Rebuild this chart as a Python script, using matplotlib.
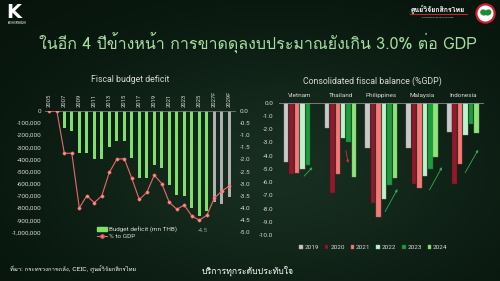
import numpy as np
import matplotlib
matplotlib.use("Agg")
import matplotlib.pyplot as plt
from matplotlib import font_manager, ft2font
from matplotlib.patches import Circle, Patch, Ellipse
from matplotlib.lines import Line2D

# ---------------- data ----------------
years = list(range(2005, 2030))
year_ticks = list(range(2005, 2030, 2))
year_tick_labels = ["2005", "2007", "2009", "2011", "2013", "2015", "2017",
                    "2019", "2021", "2023", "2025", "2027F", "2029F"]
deficit_mn_thb = [0, 0, -145000, -165000, -345000, -350000, -400000, -395000,
                  -300000, -250000, -250000, -390000, -552000, -550000,
                  -450000, -469000, -611000, -697000, -700000, -803000,
                  -867000, -823000, -749000, -770000, -710000]
pct_to_gdp = [0.0, 0.0, -1.75, -1.75, -4.0, -3.5, -3.78, -3.5, -2.54, -2.0,
              -1.97, -2.78, -3.65, -3.36, -2.65, -3.0, -3.77, -4.05, -3.88,
              -4.33, -4.5, -4.3, -3.6, -3.3, -3.1]
forecast_from = 2027

countries = ["Vietnam", "Thailand", "Philippines", "Malaysia", "Indonesia"]
balance_years = ["2019", "2020", "2021", "2022", "2023", "2024"]
bal_2019 = [-4.5, -1.9, -3.4, -3.4, -2.2]
bal_2020 = [-5.4, -6.8, -7.6, -6.1, -6.1]
bal_2021 = [-5.3, -5.4, -8.6, -6.4, -4.6]
bal_2022 = [-5.0, -2.7, -7.3, -5.5, -2.4]
bal_2023 = [-4.7, -3.0, -6.2, -5.0, -1.6]
bal_2024 = [np.nan, -5.6, -5.7, -4.1, -2.3]

# ---------------- fonts ----------------
def find_family(ch):
    for f in font_manager.fontManager.ttflist:
        try:
            if ord(ch) in ft2font.FT2Font(f.fname).get_charmap():
                return f.name
        except Exception:
            pass
    return None

thai_name = find_family("\u0e01")
THAI = [thai_name, "DejaVu Sans"] if thai_name else ["DejaVu Sans"]
plt.rcParams["font.family"] = ["Roboto", "DejaVu Sans"]
plt.rcParams["axes.unicode_minus"] = False

TXT = "#d8d8d8"
W, H = 500, 281
fig = plt.figure(figsize=(5.0, 2.81), dpi=100)

# ---------------- background ----------------
bg = fig.add_axes([0, 0, 1, 1], zorder=-10)
yy, xx = np.mgrid[0:H, 0:W]
r = np.sqrt(((xx - 280) / 260.0) ** 2 + ((yy - 170) / 150.0) ** 2)
edge = np.array([0x06, 0x13, 0x0b]) / 255.0
center = np.array([0x17, 0x2e, 0x20]) / 255.0
t = np.clip(np.exp(-r ** 2 * 1.2), 0, 1)[..., None]
img = edge + (center - edge) * t
bg.imshow(img, extent=[0, W, H, 0], aspect="auto")
bg.set_xlim(0, W)
bg.set_ylim(H, 0)
bg.axis("off")

# logos
bg.text(14, 12.5, "K", color="white", fontsize=14, fontweight="bold",
        ha="center", va="center", family="DejaVu Sans")
bg.text(17, 22.5, "KASIKORNBANK", color="white", fontsize=1.8,
        ha="center", va="center")
bg.text(438, 9, "ศูนย์วิจัยกสิกรไทย", color="white", fontsize=5,
        fontweight="bold", ha="center", va="center", family=THAI)
bg.plot([410, 467], [13.5, 13.5], color="#c8202c", lw=0.8)
bg.text(438, 18, "KASIKORN RESEARCH CENTER", color="#cccccc", fontsize=1.6,
        ha="center", va="center")
bg.add_patch(Circle((485.5, 13.5), 9.5, color="#d21f2b"))
bg.add_patch(Circle((485.5, 13.5), 7.3, color="white"))
bg.add_patch(Ellipse((483.5, 12.5), 5.5, 4.5, angle=30, color="#1e8a35"))
bg.add_patch(Ellipse((488, 12.5), 5.5, 4.5, angle=-30, color="#1e8a35"))

# headline
fig.text(39 / W, 1 - 43 / H,
         "ในอีก 4 ปีข้างหน้า การขาดดุลงบประมาณยังเกิน 3.0% ต่อ GDP",
         color="#a6dca0", fontsize=11.5, ha="left", va="center", family=THAI)

# footer
fig.text(10 / W, 1 - 269 / H,
         "ที่มา: กระทรวงการคลัง, CEIC, ศูนย์วิจัยกสิกรไทย",
         color="white", fontsize=4.3, ha="left", va="center", family=THAI)
fig.text(248 / W, 1 - 271 / H, "บริการทุกระดับประทับใจ",
         color="white", fontsize=6.3, ha="center", va="center", family=THAI)

# ---------------- left chart: budget deficit ----------------
x0, x1 = 2004.4, 2029.7
px_per_year = 7.5
left_px = 49.3 - (2005 - x0) * px_per_year
width_px = (x1 - x0) * px_per_year
top_px, bot_px = 110.7, 232.3
axL = fig.add_axes([left_px / W, 1 - bot_px / H, width_px / W,
                    (bot_px - top_px) / H])
axL.patch.set_alpha(0)
bar_colors = ["#b0b0b0" if y >= forecast_from else "#7fe06c" for y in years]
axL.bar(years, deficit_mn_thb, width=0.45, color=bar_colors, zorder=2)
axL.set_xlim(x0, x1)
axL.set_ylim(-1000000, 0)
axL.set_yticks(np.arange(-1000000, 1, 100000))
axL.set_yticklabels([f"{v:,}" for v in np.arange(-1000000, 1, 100000)])
axL.xaxis.tick_top()
axL.set_xticks(year_ticks)
axL.set_xticklabels(year_tick_labels, rotation=90)
axL.tick_params(axis="x", length=0, pad=2.5, labelsize=4.2, colors=TXT)
axL.tick_params(axis="y", length=0, pad=2.5, labelsize=4.6, colors=TXT)
for s in ["left", "right", "bottom"]:
    axL.spines[s].set_visible(False)
axL.spines["top"].set_color("#7a7a7a")
axL.spines["top"].set_linewidth(0.6)

axR = axL.twinx()
axR.plot(years, pct_to_gdp, color="#e86a6a", lw=0.8, marker="o",
         markersize=2.4, markerfacecolor="#ff8a8a", markeredgecolor="#e05a5a",
         markeredgewidth=0.3, zorder=3)
axR.set_ylim(-5.0, 0)
axR.set_yticks(np.arange(-5.0, 0.01, 0.5))
axR.set_yticklabels([f"{v:.1f}" for v in np.arange(-5.0, 0.01, 0.5)])
axR.tick_params(axis="y", length=0, pad=3.5, labelsize=4.6, colors=TXT)
for s in axR.spines.values():
    s.set_visible(False)
i_min = int(np.argmin(pct_to_gdp))
axR.annotate(f"{pct_to_gdp[i_min]:.1f}", (years[i_min], pct_to_gdp[i_min]),
             xytext=(2.5, -7.5), textcoords="offset points", ha="center",
             va="center", fontsize=4.3, color="#a0a0a0")

fig.text(130 / W, 1 - 79 / H, "Fiscal budget deficit", color=TXT,
         fontsize=6.3, ha="center", va="center")
leg_handles = [Patch(color="#7fe06c", label="Budget deficit (mn THB)"),
               Line2D([], [], color="#e86a6a", lw=0.8, marker="o",
                      markersize=2.4, markerfacecolor="#ff8a8a",
                      markeredgecolor="#e05a5a", label="% to GDP")]
fig.legend(handles=leg_handles, loc="upper left",
           bbox_to_anchor=(94 / W, 1 - 223.5 / H), frameon=False,
           fontsize=4.6, labelcolor=TXT, handlelength=1.6, handleheight=0.5,
           handletextpad=0.3, labelspacing=0.15, borderpad=0)

# ---------------- right chart: consolidated balance ----------------
r_left, r_right = 279.3, 483.3
r_top, r_bot = 102.7, 235.2
axB = fig.add_axes([r_left / W, 1 - r_bot / H, (r_right - r_left) / W,
                    (r_bot - r_top) / H])
axB.patch.set_alpha(0)
series = [bal_2019, bal_2020, bal_2021, bal_2022, bal_2023, bal_2024]
colors = ["#c9c9c9", "#8e1a2c", "#f47a78", "#bdf2cc", "#1e9c3c", "#8fe27c"]
edges = ["#9a9a9a", "#5e0f1c", "#c85654", "#8cc8a0", "#137028", "#65b856"]
slot = 0.133
bw = 0.112
xc = np.arange(len(countries))
for k, (vals, c, e) in enumerate(zip(series, colors, edges)):
    axB.bar(xc + (k - 2.5) * slot, vals, width=bw, color=c, edgecolor=e,
            linewidth=0.3, label=balance_years[k], zorder=2)
axB.set_xlim(-0.5, 4.5)
axB.set_ylim(-10.0, 0)
axB.set_yticks(np.arange(-10.0, 0.01, 1.0))
axB.set_yticklabels([f"{v:.1f}" for v in np.arange(-10.0, 0.01, 1.0)])
axB.xaxis.tick_top()
axB.set_xticks(xc)
axB.set_xticklabels(countries)
axB.tick_params(axis="x", length=0, pad=3.2, labelsize=4.6, colors=TXT)
axB.tick_params(axis="y", length=0, pad=4.5, labelsize=4.6, colors=TXT)
for s in ["left", "right", "bottom"]:
    axB.spines[s].set_visible(False)
axB.spines["top"].set_color("#8a8a8a")
axB.spines["top"].set_linewidth(0.6)

# trend arrows
arrows = [((0.06, -5.7), (0.36, -4.72), "#2fae4a"),
          ((1.12, -3.4), (1.20, -4.75), "#d0303a"),
          ((2.06, -8.4), (2.43, -6.34), "#2fae4a"),
          ((3.15, -6.76), (3.52, -4.68), "#2fae4a"),
          ((4.02, -5.46), (4.41, -3.37), "#2fae4a")]
for start, end, c in arrows:
    axB.annotate("", xy=end, xytext=start,
                 arrowprops=dict(arrowstyle="-|>", color=c, lw=0.6,
                                 mutation_scale=3.5), zorder=4)

fig.text(372 / W, 1 - 81.7 / H, "Consolidated fiscal balance (%GDP)",
         color=TXT, fontsize=6.3, ha="center", va="center")
axB.legend(ncol=6, loc="center", bbox_to_anchor=(373.5 / W, 1 - 247.3 / H),
           bbox_transform=fig.transFigure, frameon=False, fontsize=4.6,
           labelcolor=TXT, handlelength=0.55, handleheight=0.55,
           handletextpad=0.3, columnspacing=0.9, borderpad=0)

fig.savefig("out.png", dpi=100, facecolor="#07140c")
